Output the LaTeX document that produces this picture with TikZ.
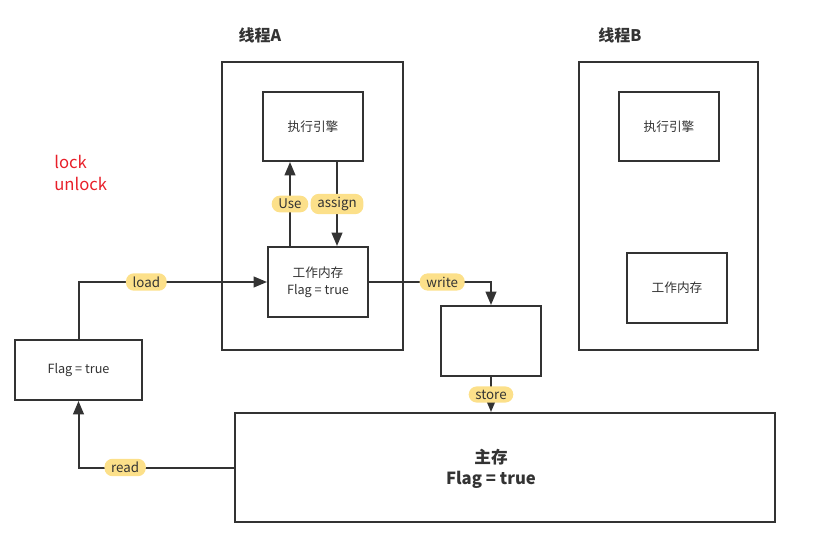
\documentclass[tikz,border=0pt]{standalone}
\usepackage{fontspec}
\setmainfont{Noto Sans CJK SC}
\usetikzlibrary{arrows.meta}

\definecolor{linegray}{HTML}{333333}
\definecolor{tagyellow}{HTML}{FCE08A}
\definecolor{lockred}{HTML}{E8202A}

\begin{document}
\begin{tikzpicture}[x=0.75pt, y=-0.75pt,
    box/.style={draw=linegray, line width=1.5pt, inner sep=0pt, align=center,
        font=\fontsize{9.5}{12.5}\selectfont, text=linegray},
    wh/.style n args={2}{minimum width=#1*0.75pt, minimum height=#2*0.75pt},
    title/.style={font=\fontsize{12}{14}\selectfont\bfseries, text=linegray},
    tag/.style={fill=tagyellow, rounded corners=6pt, inner xsep=5pt, inner ysep=2.5pt,
        font=\fontsize{10}{11}\selectfont, text=linegray},
    arr/.style={draw=linegray, line width=1.5pt, -{Triangle[length=10pt, width=8pt]}}]

    % Canvas
    \useasboundingbox (0,0) rectangle (820,545);

    % Thread A
    \node[title] (titleA) at (260,35) {线程A};
    \node[box, wh={181}{288}] (thA) at (312.5,206) {};
    \node[box, wh={100}{69}] (engA) at (313,126.5) {执行引擎};
    \node[box, wh={100}{70}] (wmA) at (318,282) {工作内存\\Flag = true};

    % Thread B
    \node[title] (titleB) at (620,35) {线程B};
    \node[box, wh={179}{288}] (thB) at (668.5,206) {};
    \node[box, wh={100}{69}] (engB) at (669,126.5) {执行引擎};
    \node[box, wh={100}{70}] (wmB) at (677,288) {工作内存};

    % Buffer between working memory and main memory
    \node[box, wh={100}{70}] (mid) at (491,341) {};

    % Main memory
    \node[box, wh={540}{109}] (main) at (505,467.5) {};
    \node[align=center, text=linegray, font=\fontsize{12.5}{16}\selectfont\bfseries] (mainText) at (491,469) {主存\\Flag = true};

    % Local copy
    \node[box, wh={127}{60}] (flag) at (78.5,370) {Flag = true};

    % lock / unlock
    \node[anchor=west, text=lockred, align=left, inner sep=0pt,
        font=\fontsize{12.5}{17}\selectfont] (lock) at (54,173) {lock\\unlock};

    % Operations
    \draw[arr] (flag.north) |- node[tag, pos=0.68] {load} (wmA.west);
    \draw[arr] (wmA.east) -| node[tag, pos=0.3] {write} (mid.north);
    \draw[arr] (mid.south) -- node[tag, pos=0.5] {store} (mid.south |- main.north);
    \draw[arr] (main.west) -| node[tag, pos=0.35] {read} (flag.south);
    \draw[arr] ([xshift=23*0.75pt]wmA.north west) -- node[tag] {Use} ([xshift=28*0.75pt]engA.south west);
    \draw[arr] ([xshift=75*0.75pt]engA.south west) -- node[tag] {assign} ([xshift=70*0.75pt]wmA.north west);

\end{tikzpicture}
\end{document}
